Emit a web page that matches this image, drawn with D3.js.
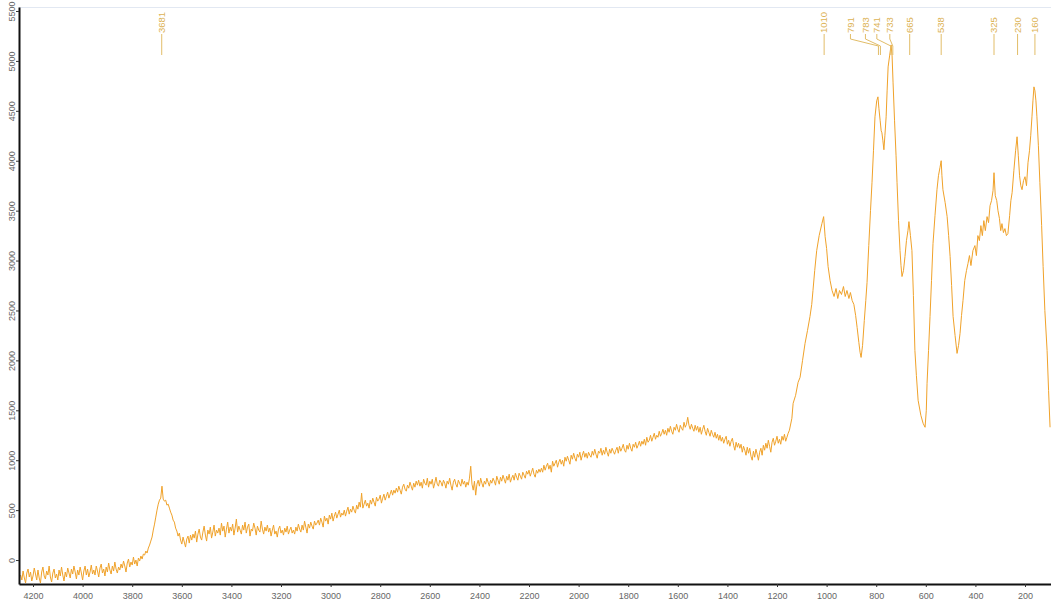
<!DOCTYPE html>
<html><head><meta charset="utf-8">
<script src="https://cdn.jsdelivr.net/npm/d3@7"></script>
<style>body{margin:0;background:#fff;} svg{display:block;font-family:"Liberation Sans",Arial,sans-serif;}</style>
</head><body><svg id="chart" width="1051" height="601"></svg>
<script>
// ---- data ----
const xTicks = [4200,4000,3800,3600,3400,3200,3000,2800,2600,2400,2200,2000,1800,1600,1400,1200,1000,800,600,400,200];
const yTicks = [0,500,1000,1500,2000,2500,3000,3500,4000,4500,5000,5500];
// noisy region, sampled every 5 cm-1 from 4250 down to 1155 (one row = 100 cm-1)
const gridStart = 4250, gridStep = 5;
const noisyValues = [
 -150,-200,-110,-180,-230,-130,-90,-170,-120,-210,-160,-80,-140,-200,-100,-180,-230,-120,-70,-160,
 -190,-110,-150,-60,-170,-220,-130,-90,-180,-140,-200,-100,-160,-70,-150,-210,-120,-170,-80,-130,
 -180,-90,-140,-60,-120,-190,-100,-150,-70,-130,-200,-110,-60,-150,-90,-170,-120,-50,-140,-100,
 -150,-60,-110,-170,-80,-40,-130,-90,-160,-70,-120,-30,-100,-140,-60,-110,-20,-90,-130,-70,
 -100,-40,-80,-10,-60,-120,-30,10,-70,-20,-50,30,-40,0,-60,20,-10,40,10,60,
 50,90,70,120,150,190,230,300,360,430,500,560,600,620,740,610,590,600,550,560,
 520,480,450,400,380,320,290,240,270,200,160,230,180,130,210,240,170,250,200,260,
 220,290,180,260,310,230,200,280,340,250,190,300,260,330,220,280,350,240,300,270,
 320,250,370,290,340,230,310,380,270,330,290,360,250,320,410,280,340,300,260,350,
 300,380,270,330,360,240,310,290,370,320,250,340,300,280,390,310,260,330,290,350,
 280,320,240,300,350,260,290,230,310,340,270,300,250,320,280,340,260,300,330,270,
 300,260,330,290,360,310,280,350,300,390,330,270,360,320,380,340,310,390,350,370,
 400,350,420,380,330,440,390,420,360,450,410,470,390,440,480,420,460,500,430,470,
 450,500,440,490,530,460,510,480,540,500,470,550,510,580,530,670,520,560,600,540,
 570,520,600,560,620,580,540,630,590,610,650,570,620,660,600,640,680,620,660,700,
 650,700,670,720,680,740,700,660,730,760,710,690,750,720,780,740,700,770,730,790,
 750,800,740,780,720,810,770,750,820,730,790,760,810,720,770,830,760,740,800,780,
 740,800,770,720,790,760,820,750,700,780,810,760,730,800,770,740,810,760,790,730,
 780,750,820,940,760,700,790,650,760,800,740,820,770,730,790,760,820,780,740,800,
 770,820,790,750,840,800,760,830,790,850,810,770,840,800,860,780,820,850,800,870,
 830,800,870,840,810,880,850,820,890,860,900,840,880,920,860,830,900,870,910,880,
 920,880,950,900,940,970,910,950,880,990,940,970,1000,930,980,1010,960,1000,940,1030,
 990,1040,1000,960,1050,1010,1070,1020,990,1060,1030,1080,1000,1050,1090,1030,1070,1020,1080,1050,
 1030,1090,1050,1110,1060,1020,1090,1070,1120,1050,1100,1060,1130,1080,1040,1110,1070,1120,1090,1060,
 1100,1130,1070,1140,1090,1120,1160,1100,1080,1150,1110,1170,1120,1090,1160,1130,1180,1120,1150,1190,
 1140,1190,1160,1210,1150,1230,1180,1200,1250,1190,1230,1270,1210,1250,1230,1290,1240,1270,1310,1260,
 1300,1250,1320,1280,1340,1290,1260,1330,1300,1360,1310,1280,1350,1320,1300,1380,1330,1360,1430,1350,
 1310,1360,1320,1290,1350,1300,1340,1280,1330,1260,1310,1350,1290,1250,1320,1280,1240,1300,1260,1230,
 1280,1220,1260,1200,1250,1190,1230,1170,1210,1240,1160,1200,1140,1190,1220,1150,1100,1180,1130,1170,
 1120,1160,1080,1140,1100,1050,1130,1070,1120,1040,1000,1090,1030,1110,1060,1000,1080,1120,1050,1150,
 1100,1170,1120,1200,1140,1080,1180,1220,1150,1190,1240,1170,1210,1160,1240,1200,1260,1190,1230,1270
];
// band region: [wavenumber, intensity]
const bandRegion = [
 [1150,1300],[1140,1420],[1135,1570],[1125,1650],[1115,1780],[1107,1830],[1097,2000],[1087,2170],[1077,2300],[1067,2440],
 [1060,2560],[1055,2700],[1048,2900],[1040,3100],[1030,3250],[1019,3370],[1012,3440],[1006,3240],[1000,3120],[994,2940],
 [986,2800],[978,2700],[970,2640],[962,2720],[955,2620],[948,2700],[940,2660],[932,2740],[925,2640],[918,2700],
 [910,2620],[904,2680],[897,2600],[890,2560],[883,2450],[877,2330],[870,2180],[865,2080],[861,2030],[855,2150],
 [848,2400],[842,2600],[837,2780],[830,3150],[823,3500],[817,3780],[811,4100],[805,4440],[798,4600],[793,4640],
 [789,4520],[784,4400],[780,4300],[777,4280],[773,4200],[769,4110],[765,4250],[760,4440],[756,4700],[752,4940],
 [746,5050],[740,5160],[736,5050],[732,4780],[726,4400],[720,4050],[716,3780],[710,3400],[704,3100],[700,2950],
 [696,2840],[690,2900],[684,3040],[678,3200],[672,3300],[668,3390],[662,3250],[656,3100],[650,2650],[644,2100],
 [638,1850],[631,1600],[620,1450],[611,1370],[603,1330],[598,1500],[595,1770],[589,2100],[583,2440],[577,2800],
 [571,3170],[563,3450],[555,3710],[549,3850],[543,3930],[538,4000],[535,3850],[531,3710],[522,3580],[514,3440],
 [508,3250],[502,3040],[496,2750],[490,2440],[482,2250],[474,2070],[468,2150],[462,2270],[456,2450],[450,2600],
 [443,2800],[436,2900],[430,2970],[424,3050],[418,2950],[410,3100],[402,3150],[396,3050],[390,3250],[384,3200],
 [378,3350],[372,3250],[366,3400],[360,3300],[353,3440],[347,3380],[341,3550],[335,3600],[329,3700],[325,3880],
 [320,3650],[314,3600],[309,3500],[303,3420],[298,3300],[293,3370],[287,3280],[281,3320],[275,3250],[269,3270],
 [262,3450],[257,3600],[252,3680],[245,3900],[238,4100],[232,4240],[227,4050],[222,3850],[217,3750],[212,3710],
 [206,3800],[200,3840],[194,3750],[188,3980],[182,4100],[177,4250],[172,4440],[168,4600],[164,4740],[160,4700],
 [156,4600],[152,4440],[146,4150],[140,3780],[133,3350],[127,2940],[120,2500],[111,2100],[105,1700],[99,1330]
];
const peakLabels = [3681,1010,791,783,741,733,665,538,325,230,160];

// ---- layout ----
const labelShift = {791:-28, 783:-15, 741:-14, 733:-3};
const svg = d3.select("#chart");
const x = d3.scaleLinear().domain([4256.5, 95.2]).range([19, 1051]);
const y = d3.scaleLinear().domain([-240, 5540]).range([584, 7]);

const series = noisyValues.map((v,i)=>[gridStart - i*gridStep, v]).concat(bandRegion);

svg.append("defs").append("clipPath").attr("id","clip")
  .append("rect").attr("x",19).attr("y",7).attr("width",1032).attr("height",577);

// faint top frame
svg.append("line").attr("x1",19).attr("x2",1051).attr("y1",7.5).attr("y2",7.5)
  .attr("stroke","#e2e8f2").attr("stroke-width",1);

// curve
svg.append("path").datum(series)
  .attr("clip-path","url(#clip)")
  .attr("fill","none").attr("stroke","#f0a22a").attr("stroke-width",1)
  .attr("stroke-linejoin","round")
  .attr("d", d3.line().x(d=>x(d[0])).y(d=>y(d[1])));

// x axis
const gx = svg.append("g").attr("transform","translate(0,584)")
  .call(d3.axisBottom(x).tickValues(xTicks).tickSize(3).tickSizeOuter(0).tickFormat(d3.format("d")));
gx.select(".domain").attr("stroke","#111").attr("stroke-width",2);
gx.selectAll(".tick line").attr("stroke","#333");
gx.selectAll(".tick text").attr("y",15).attr("dy",null)
  .attr("fill","#666").style("font-size","9px");

// y axis
const gy = svg.append("g").attr("transform","translate(19,0)")
  .call(d3.axisLeft(y).tickValues(yTicks).tickSize(3).tickSizeOuter(0).tickFormat(d3.format("d")));
gy.select(".domain").attr("stroke","#111").attr("stroke-width",2);
gy.selectAll(".tick line").attr("stroke","#333");
gy.selectAll(".tick text").attr("x",0).attr("y",-4).attr("dy",null)
  .attr("text-anchor","middle").attr("transform","rotate(-90)")
  .attr("fill","#666").style("font-size","9px");

// peak labels
const lab = svg.append("g");
peakLabels.forEach(w=>{
  const px = x(w);
  const lx = px + (labelShift[w]||0);
  const pts = labelShift[w] ? [[lx,34],[lx,39],[px,46],[px,55]] : [[px,34],[px,55]];
  lab.append("path").attr("d", d3.line()(pts))
    .attr("fill","none").attr("stroke","#e2bd68").attr("stroke-width",1);
  lab.append("text").attr("transform",`translate(${lx+3.3},33) rotate(-90)`)
    .attr("text-anchor","start").attr("fill","#dcb254").style("font-size","9.5px")
    .text(w);
});
</script></body></html>
